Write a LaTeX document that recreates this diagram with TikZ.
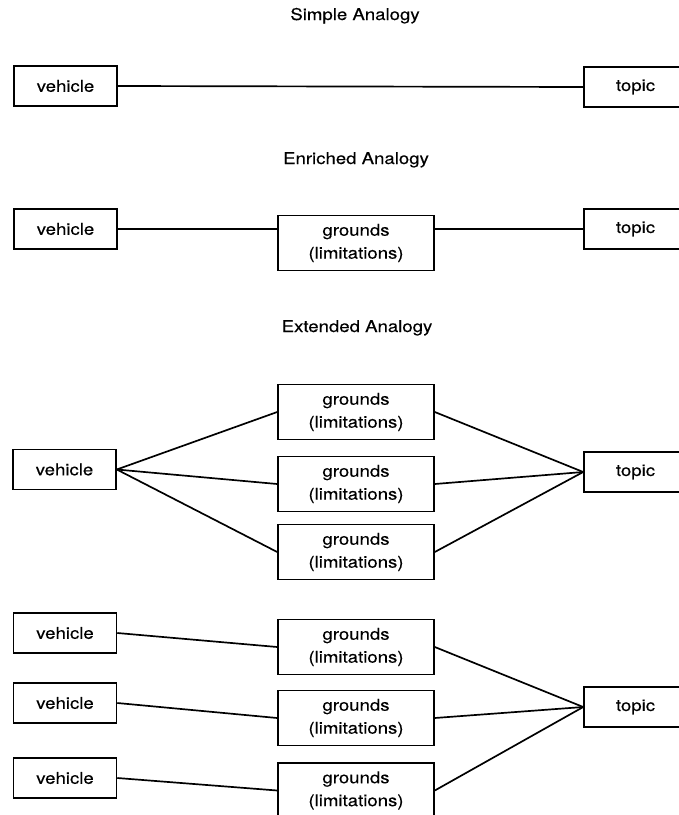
\documentclass[tikz,border=0pt]{standalone}
\usepackage{fontspec}
\setmainfont{TeX Gyre Heros}[FakeStretch=1.15, FakeBold=0.3]
\begin{document}
\begin{tikzpicture}[x=0.025cm, y=-0.025cm,
  every node/.style={font=\fontsize{11.5}{16.3}\selectfont},
  box/.style={draw, line width=1.1pt, minimum width=2.575cm, minimum height=1cm, inner sep=0pt},
  gbox/.style={draw, line width=1.1pt, minimum width=3.9cm, minimum height=1.375cm, inner sep=0pt, align=center},
  link/.style={line width=1.2pt}]
\useasboundingbox (0,0) rectangle (678,815);

% Simple analogy
\node[anchor=base] (title1) at (355,20) {Simple Analogy};
\node[box] (sveh) at (65.5,86) {vehicle};
\node[box] (stop) at (635.5,87) {topic};
\draw[link] (sveh.east) -- (stop.west);

% Enriched analogy
\node[anchor=base] (title2) at (356,164) {Enriched Analogy};
\node[box] (eveh) at (65.5,229) {vehicle};
\node[gbox] (egr) at (356,243) {grounds\\(limitations)};
\node[box] (etop) at (635.5,229) {topic};
\draw[link] (eveh.east) -- (eveh.east -| egr.west);
\draw[link] (etop.west) -- (etop.west -| egr.east);

% Extended analogy
\node[anchor=base] (title3) at (357,332) {Extended Analogy};
\node[box] (xveh) at (64.5,469.5) {vehicle};
\node[gbox] (xgr1) at (356,412) {grounds\\(limitations)};
\node[gbox] (xgr2) at (356,484) {grounds\\(limitations)};
\node[gbox] (xgr3) at (356,552) {grounds\\(limitations)};
\node[box] (xtop) at (635.5,472) {topic};
\draw[link] (xveh.east) -- (xgr1.west);
\draw[link] (xveh.east) -- (xgr2.west);
\draw[link] (xveh.east) -- (xgr3.west);
\draw[link] (xgr1.east) -- (xtop.west);
\draw[link] (xgr2.east) -- (xtop.west);
\draw[link] (xgr3.east) -- (xtop.west);

% Several vehicles, one topic
\node[box] (mveh1) at (65,633) {vehicle};
\node[box] (mveh2) at (65,703) {vehicle};
\node[box] (mveh3) at (65,778) {vehicle};
\node[gbox] (mgr1) at (356,647) {grounds\\(limitations)};
\node[gbox] (mgr2) at (356,718) {grounds\\(limitations)};
\node[gbox] (mgr3) at (356,790.5) {grounds\\(limitations)};
\node[box] (mtop) at (635.5,707) {topic};
\draw[link] (mveh1.east) -- (mgr1.west);
\draw[link] (mveh2.east) -- (mgr2.west);
\draw[link] (mveh3.east) -- (mgr3.west);
\draw[link] (mgr1.east) -- (mtop.west);
\draw[link] (mgr2.east) -- (mtop.west);
\draw[link] (mgr3.east) -- (mtop.west);
\end{tikzpicture}
\end{document}
